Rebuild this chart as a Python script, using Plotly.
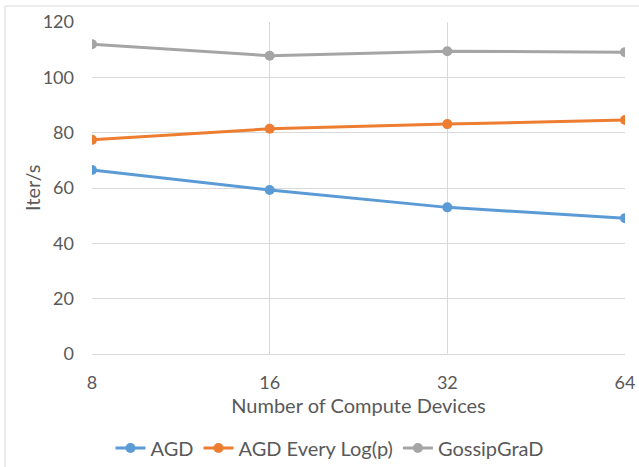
import plotly.graph_objects as go

devices = ["8", "16", "32", "64"]
agd = [66.5, 59.3, 53.0, 49.1]
agd_log = [77.4, 81.4, 83.1, 84.6]
gossip = [112.0, 107.8, 109.4, 109.1]
series = [("AGD", agd, "#5B9BD5"), ("AGD Every Log(p)", agd_log, "#ED7D31"), ("GossipGraD", gossip, "#A5A5A5")]

FONT = "Lato, Open Sans, sans-serif"
TXT = "#595959"

fig = go.Figure()
for name, vals, col in series:
    fig.add_trace(go.Scatter(x=list(range(len(devices))), y=vals, name=name, mode="lines+markers",
                             line=dict(color=col, width=3), marker=dict(color=col, size=10)))

fig.update_layout(
    width=639, height=467,
    margin=dict(l=92, r=14, t=22, b=113, autoexpand=False),
    paper_bgcolor="white", plot_bgcolor="white",
    font=dict(family=FONT, color=TXT, size=18),
    xaxis=dict(range=[0, 3], tickmode="array", tickvals=list(range(len(devices))), ticktext=devices,
               showgrid=True, gridcolor="#D9D9D9", gridwidth=1, zeroline=False, automargin=False,
               showline=True, linecolor="#D9D9D9", mirror=False, ticks="", ticklabelstandoff=12,
               title=dict(text="Number of Compute Devices", font=dict(size=20, color=TXT), standoff=7),
               tickfont=dict(size=18, color=TXT), fixedrange=True),
    yaxis=dict(range=[0, 120], dtick=20, showgrid=True, gridcolor="#D9D9D9", gridwidth=1, automargin=False,
               zeroline=False, showline=False, ticks="", ticklabelstandoff=17,
               tickfont=dict(size=18, color=TXT)),
    annotations=[dict(text="Iter/s", xref="paper", yref="paper", x=(32 - 92) / 533, y=(354 - 188) / 332,
                      xanchor="center", yanchor="middle", textangle=-90, showarrow=False,
                      font=dict(size=20, color=TXT))],
    legend=dict(orientation="h", x=(330 - 92) / 533, xanchor="center", y=-(448 - 354) / 332, yanchor="middle",
                font=dict(size=20, color=TXT), itemwidth=30, tracegroupgap=0, bgcolor="rgba(0,0,0,0)"),
    showlegend=True,
    shapes=[dict(type="rect", xref="paper", yref="paper",
                 x0=-87/533, x1=(639 - 92 + 10) / 533, y0=-200/332, y1=(354 - 6) / 332,
                 line=dict(color="#D9D9D9", width=1), fillcolor="rgba(0,0,0,0)", layer="below")],
)
fig.write_html("out.html", config={"displayModeBar": False},
               post_script="document.body.style.margin='0';document.body.style.overflow='hidden';")
